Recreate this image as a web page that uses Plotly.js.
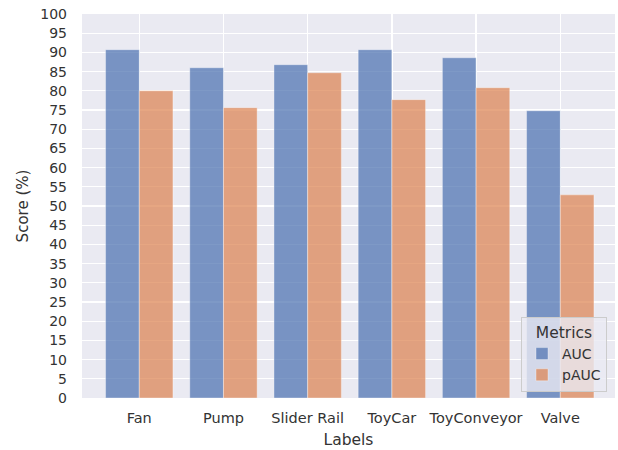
<!DOCTYPE html>
<html>
<head>
<meta charset="utf-8">
<script src="https://cdn.plot.ly/plotly-3.0.1.min.js"></script>
<style>html,body{margin:0;padding:0;background:#fff;}#chart{width:618px;height:450px;}</style>
</head>
<body>
<div id="chart"></div>
<script>
const categories = ["Fan", "Pump", "Slider Rail", "ToyCar", "ToyConveyor", "Valve"];
const aucValues = [90.7, 86.0, 86.8, 90.7, 88.6, 74.8];
const pAucValues = [80.0, 75.6, 84.7, 77.7, 80.8, 52.9];
const yTickValues = [0,5,10,15,20,25,30,35,40,45,50,55,60,65,70,75,80,85,90,95,100];

const font = {family: "DejaVu Sans, sans-serif", color: "#333333"};

const traces = [
  {type: "bar", name: "AUC", x: categories, y: aucValues,
   marker: {color: "rgba(76,114,176,0.72)", line: {color: "rgba(255,255,255,0.35)", width: 1}}},
  {type: "bar", name: "pAUC", x: categories, y: pAucValues,
   marker: {color: "rgba(221,132,82,0.72)", line: {color: "rgba(255,255,255,0.35)", width: 1}}}
];

const layout = {
  width: 618, height: 450,
  margin: {l: 82, r: 3, t: 14, b: 52, pad: 0},
  paper_bgcolor: "#ffffff",
  plot_bgcolor: "#EAEAF2",
  font: Object.assign({size: 14}, font),
  barmode: "group",
  bargap: 0.2,
  bargroupgap: 0,
  showlegend: true,
  legend: {
    x: 0.985, y: 0.016, xanchor: "right", yanchor: "bottom",
    bgcolor: "rgba(234,234,242,0.8)", bordercolor: "#cccccc", borderwidth: 1,
    title: {text: "Metrics", side: "top center", font: Object.assign({size: 15.5}, font)},
    font: Object.assign({size: 14}, font),
    itemwidth: 30, tracegroupgap: 0
  },
  xaxis: {
    type: "category",
    range: [-0.68, 5.65],
    showgrid: true, gridcolor: "#ffffff", gridwidth: 1.3,
    zeroline: false, showline: false,
    ticks: "", ticklabelstandoff: 9,
    tickfont: Object.assign({size: 14.5}, font),
    title: {text: "Labels", font: Object.assign({size: 15.5}, font), standoff: 9}
  },
  yaxis: {
    range: [0, 100],
    tickmode: "array", tickvals: yTickValues, ticktext: yTickValues.map(String),
    showgrid: true, gridcolor: "#ffffff", gridwidth: 1.3,
    zeroline: false, showline: false,
    ticks: "", ticklabelstandoff: 14,
    tickfont: Object.assign({size: 14}, font),
    title: {text: "Score (%)", font: Object.assign({size: 15}, font), standoff: 8}
  }
};

Plotly.newPlot("chart", traces, layout, {displayModeBar: false, staticPlot: true});
</script>
</body>
</html>
